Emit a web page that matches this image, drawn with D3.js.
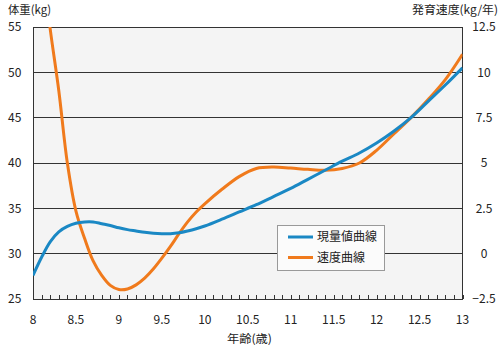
<!DOCTYPE html>
<html><head><meta charset="utf-8">
<script src="https://cdn.jsdelivr.net/npm/d3@7"></script>
<style>
body{margin:0;background:#fff;}
text{font-family:"Noto Sans CJK JP","Noto Sans",sans-serif;fill:#222;}
</style></head><body>
<svg id="c" width="502" height="345"></svg>
<script>
const ages = [8.0,8.1,8.2,8.3,8.4,8.5,8.6,8.7,8.8,8.9,9.0,9.1,9.2,9.3,9.4,9.5,9.6,9.7,9.8,9.9,10.0,10.2,10.4,10.6,10.8,11.0,11.2,11.4,11.6,11.8,12.0,12.2,12.4,12.6,12.8,13.0];
const weight = [27.6,29.6,31.3,32.4,33.0,33.35,33.5,33.5,33.3,33.1,32.85,32.65,32.5,32.35,32.25,32.2,32.2,32.3,32.5,32.75,33.05,33.8,34.6,35.4,36.3,37.2,38.2,39.2,40.2,41.1,42.2,43.5,45.0,46.8,48.6,50.5];
const velAges = [8.1,8.2,8.3,8.4,8.5,8.6,8.7,8.8,8.9,9.0,9.1,9.2,9.3,9.4,9.5,9.6,9.7,9.8,9.9,10.0,10.2,10.4,10.6,10.8,11.0,11.2,11.4,11.6,11.8,12.0,12.2,12.4,12.6,12.8,13.0];
const velocity = [16.3,12.4,9.0,5.0,2.35,0.85,-0.4,-1.2,-1.75,-1.98,-1.95,-1.72,-1.35,-0.85,-0.25,0.4,1.1,1.75,2.3,2.75,3.55,4.25,4.7,4.78,4.72,4.65,4.6,4.7,5.0,5.7,6.6,7.5,8.5,9.6,11.0];
const xTicks = [8,8.5,9,9.5,10,10.5,11,11.5,12,12.5,13];
const leftTicks = [25,30,35,40,45,50,55];
const rightTicks = [-2.5,0,2.5,5,7.5,10,12.5];
const seriesNames = ["現量値曲線","速度曲線"];
const colors = ["#1a88c4","#f07a1c"];

const svg = d3.select("#c");
const L=33, R=462.5, T=27, B=299;
const x = d3.scaleLinear().domain([8,13]).range([L,R]);
const yL = d3.scaleLinear().domain([25,55]).range([B,T]);
const yR = d3.scaleLinear().domain([-2.5,12.5]).range([B,T]);

svg.append("rect").attr("x",L).attr("y",T).attr("width",R-L).attr("height",B-T).attr("fill","#f4f4f4");
svg.append("defs").append("clipPath").attr("id","clip").append("rect").attr("x",L).attr("y",T).attr("width",R-L).attr("height",B-T);

svg.append("g").selectAll("line").data(leftTicks.slice(1,-1)).join("line")
 .attr("x1",L).attr("x2",R).attr("y1",d=>yL(d)).attr("y2",d=>yL(d))
 .attr("stroke","#333").attr("stroke-width",1).attr("shape-rendering","crispEdges");

const minor = d3.range(0,51).map(i=>8+i*0.1);
svg.append("g").selectAll("line").data(minor).join("line")
 .attr("x1",d=>Math.round(x(d))+0.5).attr("x2",d=>Math.round(x(d))+0.5).attr("y1",B).attr("y2",B-4)
 .attr("stroke","#333").attr("stroke-width",1);

svg.append("rect").attr("x",L).attr("y",T).attr("width",R-L).attr("height",B-T)
 .attr("fill","none").attr("stroke","#333").attr("stroke-width",1).attr("shape-rendering","crispEdges");

svg.append("g").selectAll("text").data(leftTicks).join("text")
 .attr("x",8).attr("y",d=>yL(d)).attr("dy","0.35em").attr("font-size",12).text(d=>d);
svg.append("g").selectAll("text").data(rightTicks).join("text")
 .attr("x",484).attr("y",d=>yR(d)).attr("dy","0.35em").attr("text-anchor","middle").attr("font-size",12)
 .text(d=>d<0?"\u2212"+Math.abs(d):d);
svg.append("g").selectAll("text").data(xTicks).join("text")
 .attr("x",d=>x(d)).attr("y",320).attr("dy","0.35em").attr("text-anchor","middle").attr("font-size",12).text(d=>d);

svg.append("text").attr("x",8).attr("y",10).attr("dy","0.35em").attr("font-size",11.5)
 .attr("textLength",43).attr("lengthAdjust","spacingAndGlyphs").text("体重(kg)");
svg.append("text").attr("x",412).attr("y",10).attr("dy","0.35em").attr("font-size",11.5)
 .attr("textLength",86).attr("lengthAdjust","spacingAndGlyphs").text("発育速度(kg/年)");
svg.append("text").attr("x",227).attr("y",339).attr("dy","0.35em").attr("font-size",11.5)
 .attr("textLength",45).attr("lengthAdjust","spacingAndGlyphs").text("年齢(歳)");

const g = svg.append("g").attr("clip-path","url(#clip)");
const lineW = d3.line().x((d,i)=>x(ages[i])).y(d=>yL(d)).curve(d3.curveCatmullRom);
const lineV = d3.line().x((d,i)=>x(velAges[i])).y(d=>yR(d)).curve(d3.curveCatmullRom);
g.append("path").attr("d",lineV(velocity)).attr("fill","none").attr("stroke",colors[1]).attr("stroke-width",3);
g.append("path").attr("d",lineW(weight)).attr("fill","none").attr("stroke",colors[0]).attr("stroke-width",3);

const lg = svg.append("g");
lg.append("rect").attr("x",277.5).attr("y",225.5).attr("width",107).attr("height",45).attr("fill","#fbfbfb").attr("stroke","#999");
seriesNames.forEach((n,i)=>{
  const yy = 237 + i*20.5;
  lg.append("line").attr("x1",288).attr("x2",313).attr("y1",yy).attr("y2",yy).attr("stroke",colors[i]).attr("stroke-width",3);
  lg.append("text").attr("x",317).attr("y",yy).attr("dy","0.35em").attr("font-size",12).text(n);
});
</script></body></html>
